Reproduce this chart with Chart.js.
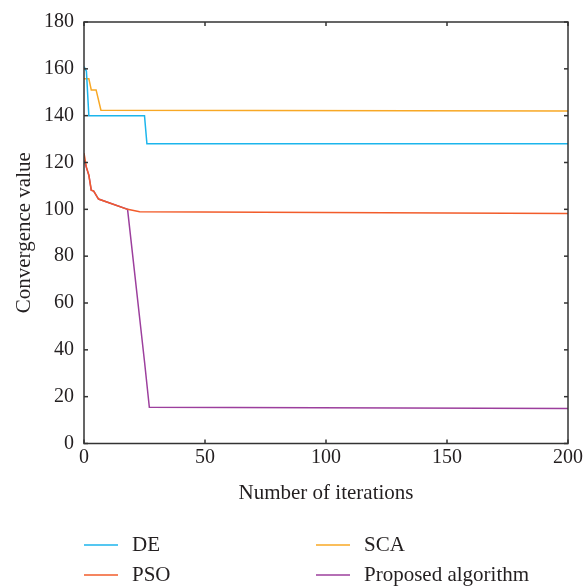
<!DOCTYPE html>
<html>
<head>
<meta charset="utf-8">
<script src="https://cdn.jsdelivr.net/npm/chart.js@4.4.0/dist/chart.umd.min.js"></script>
<style>
  html, body { margin: 0; padding: 0; background: #fff; }
</style>
</head>
<body>
<canvas id="myChart" width="586" height="588"></canvas>
<script>
// Data
const xTicks = [0, 50, 100, 150, 200];
const yTicks = [0, 20, 40, 60, 80, 100, 120, 140, 160, 180];

const deIter = [0, 1, 2, 25, 26, 200];
const deValue = [161, 159, 140, 140, 128, 128];

const psoIter = [0, 1, 2, 3, 4, 6, 18, 23, 200];
const psoValue = [124, 118, 114.6, 108.2, 107.8, 104.4, 100, 99, 98.2];

const scaIter = [0, 2, 3, 5, 7, 200];
const scaValue = [155.8, 155.8, 151, 151, 142.3, 142];

const propIter = [0, 2, 3, 4, 6, 18, 25, 27, 200];
const propValue = [121, 114.6, 108.2, 107.8, 104.4, 100, 35, 15.5, 15];

const seriesNames = ["DE", "PSO", "SCA", "Proposed algorithm"];
const seriesColors = ["#1cb5ec", "#f25c2b", "#f8a825", "#9c3f9d"];

const FONT = "'Liberation Serif', 'Times New Roman', serif";
const TEXT = "#231f20";

const toPoints = (xs, ys) => xs.map((x, i) => ({ x: x, y: ys[i] }));

const datasets = [
  toPoints(deIter, deValue),
  toPoints(psoIter, psoValue),
  toPoints(scaIter, scaValue),
  toPoints(propIter, propValue),
].map((pts, i) => ({
  label: seriesNames[i],
  data: pts,
  borderColor: seriesColors[i],
  backgroundColor: seriesColors[i],
  borderWidth: 1.5,
  pointRadius: 0,
  tension: 0,
  fill: false,
}));

// frame, inward ticks, axis titles and the two-column legend
const framePlugin = {
  id: "frame",
  afterDraw(chart) {
    const { ctx, chartArea: a, scales } = chart;
    ctx.save();
    ctx.strokeStyle = "#333";
    ctx.lineWidth = 1.5;
    ctx.strokeRect(a.left, a.top, a.right - a.left, a.bottom - a.top);

    const seg = (x1, y1, x2, y2) => {
      ctx.beginPath();
      ctx.moveTo(x1, y1);
      ctx.lineTo(x2, y2);
      ctx.stroke();
    };
    xTicks.forEach((v) => {
      const px = scales.x.getPixelForValue(v);
      seg(px, a.bottom, px, a.bottom - 4);
      seg(px, a.top, px, a.top + 4);
    });
    yTicks.forEach((v) => {
      const py = scales.y.getPixelForValue(v);
      seg(a.left, py, a.left + 4, py);
      seg(a.right, py, a.right - 4, py);
    });

    ctx.fillStyle = TEXT;
    ctx.font = "21px " + FONT;
    ctx.textAlign = "center";
    ctx.textBaseline = "middle";
    ctx.fillText("Number of iterations", (a.left + a.right) / 2, 493);

    ctx.save();
    ctx.translate(24, (a.top + a.bottom) / 2);
    ctx.rotate(-Math.PI / 2);
    ctx.fillText("Convergence value", 0, 0);
    ctx.restore();

    // legend: DE / PSO in the first column, SCA / Proposed in the second
    const order = [0, 2, 1, 3];
    ctx.textAlign = "left";
    order.forEach((idx, k) => {
      const col = k % 2;
      const row = Math.floor(k / 2);
      const lx = col === 0 ? 84 : 316;
      const ly = row === 0 ? 545 : 575;
      ctx.strokeStyle = seriesColors[idx];
      ctx.lineWidth = 1.5;
      seg(lx, ly, lx + 34, ly);
      ctx.fillStyle = TEXT;
      ctx.fillText(seriesNames[idx], lx + 48, ly);
    });
    ctx.restore();
  },
};

const ctx = document.getElementById("myChart").getContext("2d");
const chart = new Chart(ctx, {
  type: "line",
  data: { datasets },
  plugins: [framePlugin],
  options: {
    responsive: false,
    animation: false,
    devicePixelRatio: 1,
    layout: { padding: { top: 19, right: 18, left: 0, bottom: 0 } },
    plugins: {
      legend: { display: false },
      tooltip: { enabled: false },
    },
    scales: {
      x: {
        type: "linear",
        min: 0,
        max: 200,
        afterBuildTicks: (s) => { s.ticks = xTicks.map((v) => ({ value: v })); },
        afterFit: (s) => { s.height = 144.5; },
        ticks: { font: { family: FONT, size: 20 }, color: TEXT, padding: 2, maxRotation: 0 },
        grid: { display: false, drawTicks: false },
        border: { display: false },
      },
      y: {
        type: "linear",
        min: 0,
        max: 180,
        afterBuildTicks: (s) => { s.ticks = yTicks.map((v) => ({ value: v })); },
        afterFit: (s) => { s.width = 84; },
        ticks: { font: { family: FONT, size: 20 }, color: TEXT, padding: 10 },
        grid: { display: false, drawTicks: false },
        border: { display: false },
      },
    },
  },
});
</script>
</body>
</html>
